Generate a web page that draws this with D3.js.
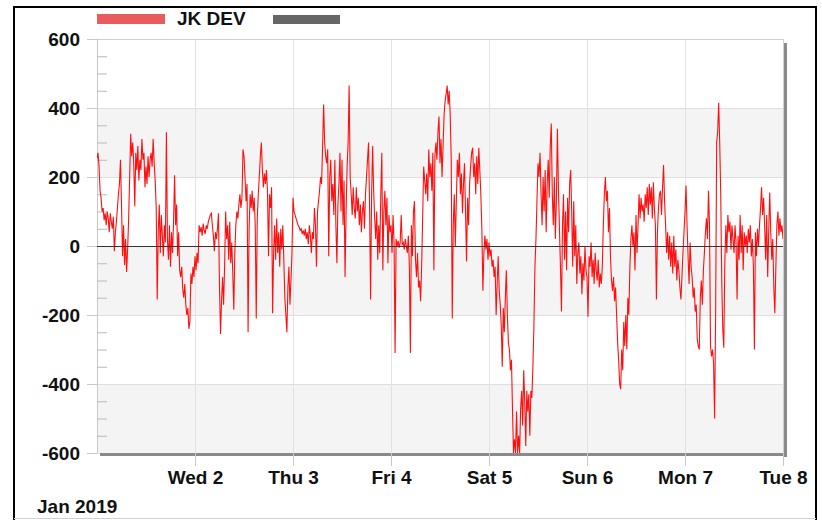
<!DOCTYPE html>
<html>
<head>
<meta charset="utf-8">
<script src="https://cdn.jsdelivr.net/npm/d3@7/dist/d3.min.js"></script>
<style>
  html, body { margin: 0; padding: 0; background: #fff; }
  svg { display: block; font-family: "Liberation Sans", Arial, sans-serif; }
</style>
</head>
<body>
<svg id="chart" width="822" height="520"></svg>
<script>
// ---- data (quarter-hourly JK DEV values) ----
const seriesName = "JK DEV";
const startDate = "2019-01-01T00:00:00";
const stepMinutes = 15;
const day1 = [255,270,230,160,140,100,110,75,95,60,100,80,
  40,95,70,50,85,-15,40,70,110,150,180,250,
  120,-30,60,-55,20,-75,-10,80,200,325,260,300,
  240,115,270,220,290,190,250,220,310,250,270,170,
  230,180,260,200,250,270,230,310,240,190,110,-155,
  40,120,-20,90,30,-30,60,10,330,20,-40,60,
  -60,40,-20,70,205,60,120,-30,40,-70,-90,-60,
  -125,-150,-110,-170,-200,-180,-240,-220,-80,-110,-60,-90];
const day2 = [-30,-70,-20,-50,60,40,55,30,65,45,35,60,
  50,70,80,90,95,60,30,-15,40,20,50,95,
  -120,-255,-160,-90,-170,-60,100,20,60,-40,70,-50,
  10,-80,-185,-20,60,100,80,120,150,110,140,280,
  260,200,130,180,-250,50,150,110,160,100,140,60,
  -210,80,150,200,260,300,220,170,210,180,220,160,
  -30,150,110,170,-195,-20,60,-40,80,-20,40,-60,
  50,-10,60,-40,-150,-200,-250,-120,-60,-170,-100,-20];
const day3 = [140,100,90,80,70,60,55,45,50,35,45,30,
  50,20,40,5,60,30,-20,40,20,110,60,-60,
  100,130,160,200,180,290,410,300,260,240,280,-30,
  200,250,130,180,90,250,60,-50,120,180,270,100,
  250,60,190,-90,100,230,300,465,200,150,90,170,
  110,80,170,100,140,60,120,40,100,130,50,150,
  200,250,300,120,-155,150,290,160,80,20,100,-40,
  60,-20,150,270,-70,100,160,60,140,-50,90,40];
const day4 = [60,-20,90,10,-310,20,0,15,-5,10,90,5,
  10,-10,20,0,-20,30,-60,-310,60,-30,100,130,
  -40,-90,-20,-120,-100,-160,-60,80,230,190,150,210,
  130,280,200,240,160,270,-70,260,300,250,330,375,
  240,310,200,290,380,420,440,465,410,450,380,250,
  -210,60,150,0,130,250,200,270,150,210,95,180,
  240,100,-45,140,60,180,230,270,285,200,240,150,
  260,180,285,220,150,50,-130,-20,30,-10,20,-40];
const day5 = [10,-30,-10,-60,-40,-90,-60,-200,-110,-30,-130,-170,
  -230,-350,-180,-250,-150,-70,-200,-280,-300,-360,-330,-470,
  -600,-560,-600,-480,-600,-550,-600,-470,-420,-520,-360,-450,
  -580,-420,-480,-430,-550,-420,-440,-350,-230,-60,20,130,
  240,200,270,150,60,200,100,220,40,180,250,140,
  290,355,150,60,200,20,130,340,170,50,-60,-190,
  60,150,-40,100,-70,140,40,180,220,100,-60,130,
  -30,60,-110,-20,10,-80,-30,-140,-50,-100,0,-70];
const day6 = [-90,-205,-30,-60,10,-90,-40,-110,-20,-70,-100,-40,
  -120,-80,-110,-60,60,150,200,130,160,40,110,-30,
  -100,-130,-90,-160,-120,-200,-280,-330,-400,-415,-300,-360,
  -220,-290,-200,-300,-150,-200,-60,20,60,0,40,-70,
  90,-20,60,150,80,140,100,120,70,150,110,170,
  90,180,120,170,80,185,110,60,-155,40,110,150,
  160,90,170,235,130,60,-20,40,-40,30,-60,10,
  -80,30,-60,-10,-100,-40,-70,-120,-155,-90,-20,40];
const day7 = [100,175,60,-30,-110,10,-60,-90,-150,-120,-190,-170,
  -270,-290,-300,-150,-100,-170,-70,-20,40,80,20,160,
  60,-290,-320,-300,-340,-500,-200,300,330,415,300,150,
  -100,-240,-295,-50,60,-20,90,40,70,-10,60,20,
  -20,60,10,-155,30,-40,90,-20,60,-70,40,0,
  30,-20,50,10,60,-30,20,-60,-300,40,-30,50,
  0,60,110,170,90,140,60,-40,90,-90,40,155,
  40,-40,20,-120,-195,-60,60,100,30,80,40,60,
  20];
const xTickLabels = ["Wed 2","Thu 3","Fri 4","Sat 5","Sun 6","Mon 7","Tue 8"];
const yTickValues = [-600,-400,-200,0,200,400,600];
const periodLabel = "Jan 2019";

// ---- build ----
const values = [].concat(day1, day2, day3, day4, day5, day6, day7);
const t0 = new Date(startDate);
const data = values.map((v, i) => ({ t: new Date(t0.getTime() + i * stepMinutes * 60000), v }));
const dayTicks = xTickLabels.map((_, i) => d3.timeDay.offset(t0, i + 1));

const svg = d3.select("#chart");
const L = 97, R = 783, T = 39, B = 453;
const FONT = '"Liberation Sans", Arial, sans-serif';

const x = d3.scaleTime().domain([t0, d3.timeDay.offset(t0, 7)]).range([L, R]);
const y = d3.scaleLinear().domain([-600, 600]).range([B, T]);

// outer frame
svg.append("line").attr("x1", 14).attr("y1", 6).attr("x2", 14).attr("y2", 520).attr("stroke", "#000").attr("stroke-width", 2);
svg.append("line").attr("x1", 13).attr("y1", 7).attr("x2", 817).attr("y2", 7).attr("stroke", "#000").attr("stroke-width", 2);
svg.append("line").attr("x1", 816).attr("y1", 6).attr("x2", 816).attr("y2", 520).attr("stroke", "#000").attr("stroke-width", 2);
svg.append("line").attr("x1", 14).attr("y1", 518.5).attr("x2", 816).attr("y2", 518.5).attr("stroke", "#d0d0d0").attr("stroke-width", 1);

// plot background bands
const bands = [[200, 400], [-200, 0], [-600, -400]];
svg.append("rect").attr("x", L).attr("y", T).attr("width", R - L).attr("height", B - T).attr("fill", "#fff");
svg.selectAll("rect.band").data(bands).join("rect").attr("class", "band")
  .attr("x", L).attr("width", R - L)
  .attr("y", d => y(d[1])).attr("height", d => y(d[0]) - y(d[1]))
  .attr("fill", "#f4f4f4");

// horizontal gridlines
svg.selectAll("line.hgrid").data(yTickValues.filter(v => v !== 0)).join("line").attr("class", "hgrid")
  .attr("x1", L).attr("x2", R).attr("y1", d => Math.round(y(d)) + 0.5).attr("y2", d => Math.round(y(d)) + 0.5)
  .attr("stroke", "#dedede");

// vertical gridlines
svg.selectAll("line.vgrid").data(dayTicks).join("line").attr("class", "vgrid")
  .attr("x1", d => Math.round(x(d)) + 0.5).attr("x2", d => Math.round(x(d)) + 0.5)
  .attr("y1", T).attr("y2", B).attr("stroke", "#e2e2e2");

// shadow (right & bottom)
svg.append("rect").attr("x", R + 1).attr("y", T + 4).attr("width", 3).attr("height", B - T).attr("fill", "#8a8a8a");
svg.append("rect").attr("x", L + 3).attr("y", B).attr("width", R - L + 1).attr("height", 3).attr("fill", "#8a8a8a");

// plot border (top/right light)
svg.append("line").attr("x1", L).attr("x2", R + 1).attr("y1", T + 0.5).attr("y2", T + 0.5).attr("stroke", "#cfcfcf");
svg.append("line").attr("x1", R + 0.5).attr("x2", R + 0.5).attr("y1", T).attr("y2", B).attr("stroke", "#cfcfcf");

// x axis
const xAxis = d3.axisBottom(x).tickValues(dayTicks).tickFormat((d, i) => xTickLabels[i]).tickSize(13).tickPadding(5);
const gx = svg.append("g").attr("transform", `translate(0,${B})`).call(xAxis);
gx.select(".domain").remove();
gx.selectAll(".tick line").attr("stroke", "#c8c8c8");
gx.selectAll(".tick text").attr("fill", "#111").style("font-size", "19px").style("font-weight", "bold").style("font-family", FONT);

// y axis (major)
const yAxis = d3.axisLeft(y).tickValues(yTickValues).tickFormat(d => String(d)).tickSize(10).tickPadding(7);
const gy = svg.append("g").attr("transform", `translate(${L},0)`).call(yAxis);
gy.select(".domain").attr("stroke", "#c8c8c8").attr("d", `M0.5,${T}V${B}`);
gy.selectAll(".tick line").attr("stroke", "#c8c8c8");
gy.selectAll(".tick text").attr("fill", "#111").style("font-size", "19px").style("font-weight", "bold").style("font-family", FONT);

// y axis minor ticks (inside)
const minorVals = d3.range(-550, 600, 50).filter(v => v % 200 !== 0);
const gyMinor = svg.append("g").attr("transform", `translate(${L},0)`)
  .call(d3.axisRight(y).tickValues(minorVals).tickSize(10).tickFormat(""));
gyMinor.select(".domain").remove();
gyMinor.selectAll(".tick line").attr("stroke", "#b8b8b8");

// data line
svg.append("clipPath").attr("id", "clip").append("rect").attr("x", L).attr("y", T).attr("width", R - L).attr("height", B - T);
const line = d3.line().x(d => x(d.t)).y(d => y(d.v));
svg.append("path").datum(data).attr("clip-path", "url(#clip)")
  .attr("d", line).attr("fill", "none").attr("stroke", "#ff1010").attr("stroke-width", 1.1).attr("stroke-linejoin", "miter");

// zero line
svg.append("line").attr("x1", L).attr("x2", R).attr("y1", Math.round(y(0)) + 0.5).attr("y2", Math.round(y(0)) + 0.5)
  .attr("stroke", "#333").attr("stroke-width", 1);

// period label
svg.append("text").attr("x", 37).attr("y", 513).text(periodLabel)
  .attr("fill", "#111").style("font-size", "19px").style("font-weight", "bold");

// legend
svg.append("rect").attr("x", 97).attr("y", 14).attr("width", 68).attr("height", 10).attr("fill", "#e85c5c");
svg.append("text").attr("x", 177).attr("y", 25).text(seriesName)
  .attr("fill", "#111").style("font-size", "19px").style("font-weight", "bold");
svg.append("rect").attr("x", 273).attr("y", 15).attr("width", 67).attr("height", 9).attr("fill", "#666");
</script>
</body>
</html>
